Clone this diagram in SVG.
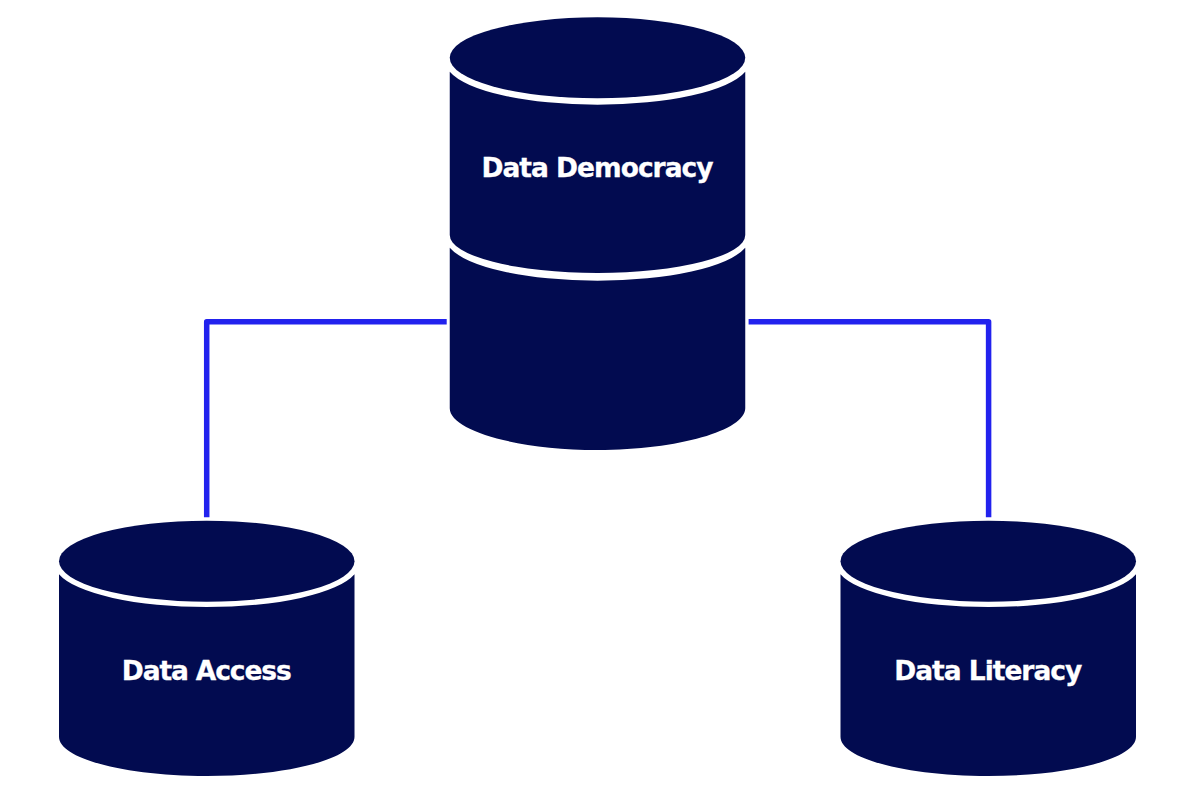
<svg xmlns="http://www.w3.org/2000/svg" width="1200" height="790" viewBox="0 0 1200 790">
  <style>
    .drum { fill: #020b50; }
    .label { fill: #ffffff; stroke: #ffffff; stroke-width: 0.3; font-family: "DejaVu Sans", sans-serif; font-weight: 700; font-size: 26.5px; text-anchor: middle; }
    .link { fill: none; stroke: #2222ee; stroke-width: 5.5; stroke-linejoin: round; }
  </style>
  <defs>
    <ellipse id="lid" cx="147.75" cy="40.5" rx="147.75" ry="40.5"/>
  </defs>
  <rect width="1200" height="790" fill="#ffffff"/>

  <g id="connectors">
    <path class="link" d="M446.7 321.7H206.7V517.3"/>
    <path class="link" d="M748.6 321.7H988.6V517.3"/>
  </g>

  <g id="data-democracy" transform="translate(449.75 17.3)">
    <use href="#lid" class="drum"/>
    <path class="drum" d="M0 54.5A152 43 0 0 0 295.5 54.5V217.7A147.75 38 0 0 1 0 217.7Z"/>
    <path class="drum" d="M0 230.5A152 43 0 0 0 295.5 230.5V391C295.5 413 229 432.7 147.75 432.7S0 413 0 391Z"/>
    <text class="label" x="147.75" y="159.5" textLength="232" lengthAdjust="spacing">Data Democracy</text>
  </g>

  <g id="data-access" transform="translate(59 520.7)">
    <use href="#lid" class="drum"/>
    <path class="drum" d="M0 53.5A152 43 0 0 0 295.5 53.5V216C295.5 238 229 255.3 147.75 255.3S0 238 0 216Z"/>
    <text class="label" x="147.75" y="159.5" textLength="170" lengthAdjust="spacing">Data Access</text>
  </g>

  <g id="data-literacy" transform="translate(840.5 520.7)">
    <use href="#lid" class="drum"/>
    <path class="drum" d="M0 53.5A152 43 0 0 0 295.5 53.5V216C295.5 238 229 255.3 147.75 255.3S0 238 0 216Z"/>
    <text class="label" x="147.75" y="159.5" textLength="188" lengthAdjust="spacing">Data Literacy</text>
  </g>
</svg>
